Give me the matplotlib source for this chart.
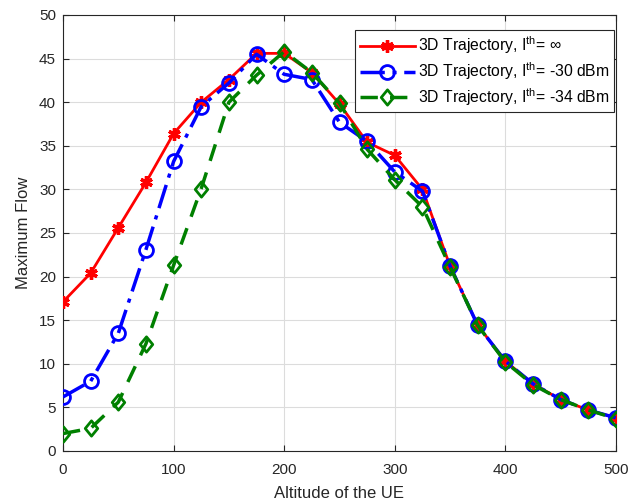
import matplotlib
matplotlib.use("Agg")
import matplotlib.pyplot as plt
from matplotlib.path import Path

plt.rcParams['font.family'] = ['Liberation Sans', 'DejaVu Sans']
plt.rcParams['mathtext.fontset'] = 'custom'
plt.rcParams['mathtext.rm'] = 'Liberation Sans'
plt.rcParams['mathtext.it'] = 'Liberation Sans:italic'

altitude = [0, 25, 50, 75, 100, 125, 150, 175, 200, 225, 250, 275, 300, 325, 350, 375, 400, 425, 450, 475, 500]
flow_inf = [17.1, 20.4, 25.6, 30.8, 36.4, 40.0, 42.6, 45.6, 45.6, 43.4, 39.8, 35.4, 33.9, 30.0, 21.2, 14.4, 10.3, 7.7, 5.9, 4.7, 3.8]
flow_30 = [6.2, 8.0, 13.5, 23.1, 33.2, 39.5, 42.2, 45.5, 43.2, 42.6, 37.7, 35.5, 32.0, 29.8, 21.2, 14.4, 10.3, 7.7, 5.9, 4.7, 3.8]
flow_34 = [2.0, 2.6, 5.6, 12.3, 21.3, 30.1, 40.0, 43.1, 45.8, 43.4, 39.9, 34.6, 31.1, 28.0, 21.1, 14.4, 10.2, 7.6, 5.9, 4.7, 3.7]
labels = [r'3D Trajectory, I$^{\mathrm{th}}$= $\infty$',
          r'3D Trajectory, I$^{\mathrm{th}}$= -30 dBm',
          r'3D Trajectory, I$^{\mathrm{th}}$= -34 dBm']

diamond = Path([(0, 1), (0.82, 0), (0, -1), (-0.82, 0), (0, 1)],
               [Path.MOVETO, Path.LINETO, Path.LINETO, Path.LINETO, Path.CLOSEPOLY])

fig = plt.figure(figsize=(6.44, 5.04), dpi=100)
ax = fig.add_axes([63/644, 53/504, 553/644, 436/504])

ax.plot(altitude, flow_inf, color='#ff0000', lw=2, ls='-', marker=(6, 2, 0),
        ms=9, mew=2.4, label=labels[0], zorder=3)
ax.plot(altitude, flow_30, color='#0000ff', lw=2.5, ls=(0, (7, 2.2, 1.2, 2.2)), marker='o',
        ms=10, mfc='none', mew=2, label=labels[1], zorder=4)
ax.plot(altitude, flow_34, color='#008000', lw=2.5, ls=(0, (5, 3.5)), marker=diamond,
        ms=11, mfc='none', mew=2, label=labels[2], zorder=5)

ax.set_xlim(0, 500)
ax.set_ylim(0, 50)
ax.set_xticks(range(0, 501, 100))
ax.set_yticks(range(0, 51, 5))
ax.grid(True, color='#dcdcdc', lw=0.8)
ax.set_axisbelow(True)
ax.tick_params(direction='in', labelsize=11, length=4, top=True, right=True, colors='#262626')
ax.tick_params(axis='x', pad=9)
ax.tick_params(axis='y', pad=5)
for s in ax.spines.values():
    s.set_color('#262626')
    s.set_linewidth(0.8)
ax.set_xlabel('Altitude of the UE', fontsize=12, color='#262626', labelpad=6)
ax.set_ylabel('Maximum Flow', fontsize=12, color='#262626', labelpad=6)

leg = ax.legend(loc='upper right', bbox_to_anchor=(0.9964, 0.9656), fontsize=11.3,
                fancybox=False, framealpha=1, edgecolor='#262626', handlelength=3.5,
                borderpad=0.3, labelspacing=0.25, handletextpad=0.2, borderaxespad=0)
leg.get_frame().set_linewidth(0.8)

fig.savefig('out.png', dpi=100)
